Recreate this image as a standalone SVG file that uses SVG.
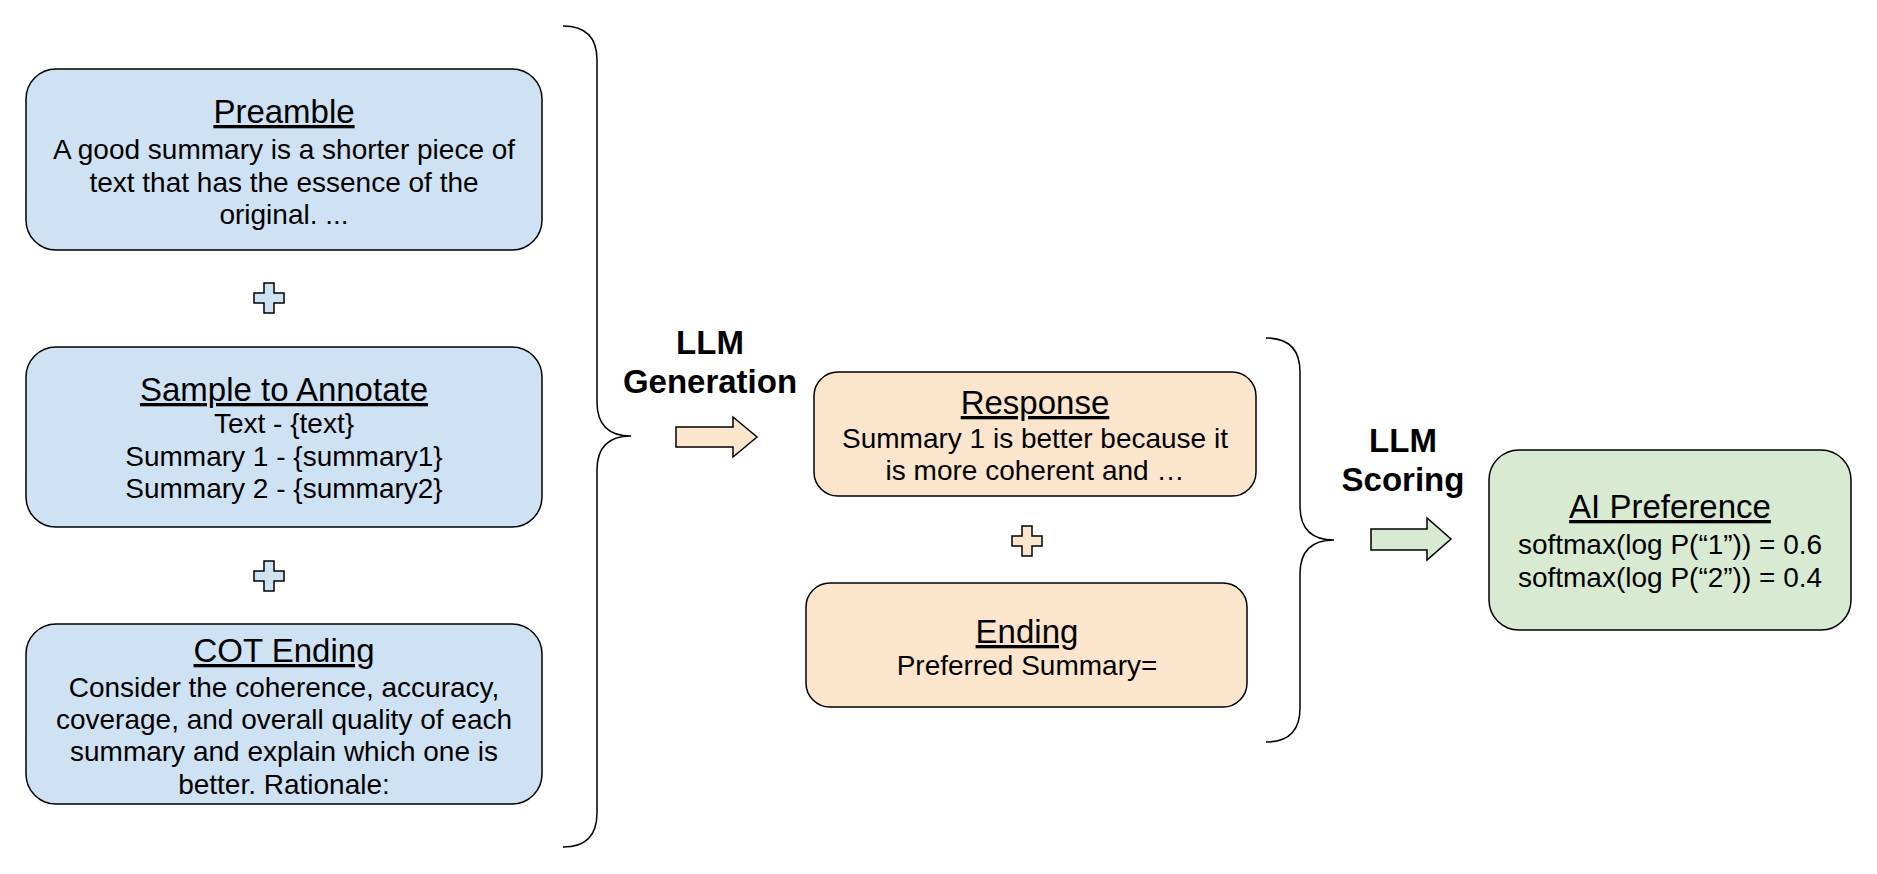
<svg xmlns="http://www.w3.org/2000/svg" width="1877" height="874" viewBox="0 0 1877 874">
<style>
text{font-family:"Liberation Sans",Arial,sans-serif;fill:#000;text-anchor:middle}
.t{font-size:33px;text-decoration:underline}
.b{font-size:28px}
.h{font-size:33px;font-weight:bold}
.box{stroke:#000;stroke-width:1.5}
.blue{fill:#cfe2f3}.or{fill:#fce5cd}.gr{fill:#d9ead3}
.br{fill:none;stroke:#000;stroke-width:1.5}
</style>
<defs>
<path id="plus" d="M-5,-15H5V-5H15V5H5V15H-5V5H-15V-5H-5Z" stroke="#000" stroke-width="1.5"/>
</defs>
<rect width="1877" height="874" fill="#fff"/>
<g id="preamble"><rect class="box blue" x="26" y="69" width="516" height="181" rx="30"/>
<text class="t" x="284" y="123">Preamble</text>
<text class="b" x="284" y="159">A good summary is a shorter piece of</text>
<text class="b" x="284" y="192">text that has the essence of the</text>
<text class="b" x="284" y="224">original. ...</text></g>
<g id="sample"><rect class="box blue" x="26" y="347" width="516" height="180" rx="30"/>
<text class="t" x="284" y="401">Sample to Annotate</text>
<text class="b" x="284" y="433">Text - {text}</text>
<text class="b" x="284" y="466">Summary 1 - {summary1}</text>
<text class="b" x="284" y="498">Summary 2 - {summary2}</text></g>
<g id="cot"><rect class="box blue" x="26" y="624" width="516" height="180" rx="30"/>
<text class="t" x="284" y="662">COT Ending</text>
<text class="b" x="284" y="697">Consider the coherence, accuracy,</text>
<text class="b" x="284" y="729">coverage, and overall quality of each</text>
<text class="b" x="284" y="761">summary and explain which one is</text>
<text class="b" x="284" y="794">better. Rationale:</text></g>
<g id="plus1"><use href="#plus" x="269" y="298" fill="#cfe2f3"/></g>
<g id="plus2"><use href="#plus" x="269" y="576" fill="#cfe2f3"/></g>
<g id="response"><rect class="box or" x="814" y="372" width="442" height="124" rx="24"/>
<text class="t" x="1035" y="414">Response</text>
<text class="b" x="1035" y="448">Summary 1 is better because it</text>
<text class="b" x="1035" y="480">is more coherent and …</text></g>
<g id="plus3"><use href="#plus" x="1027" y="541" fill="#fce5cd"/></g>
<g id="ending"><rect class="box or" x="806" y="583" width="441" height="124" rx="24"/>
<text class="t" x="1027" y="643">Ending</text>
<text class="b" x="1027" y="675">Preferred Summary=</text></g>
<g id="ai"><rect class="box gr" x="1489" y="450" width="362" height="180" rx="30"/>
<text class="t" x="1670" y="518">AI Preference</text>
<text class="b" x="1670" y="554">softmax(log P(“1”)) = 0.6</text>
<text class="b" x="1670" y="587">softmax(log P(“2”)) = 0.4</text></g>
<g id="label1"><text class="h" x="710" y="354">LLM</text><text class="h" x="710" y="393">Generation</text></g>
<g id="label2"><text class="h" x="1403" y="452">LLM</text><text class="h" x="1403" y="491">Scoring</text></g>
<g id="connectors">
<path class="br" d="M563,26 Q597,26 597,60 V402 Q597,436 631,436 Q597,436 597,470 V813 Q597,847 563,847"/>
<path class="br" d="M1266,338 Q1300,338 1300,372 V506 Q1300,540 1334,540 Q1300,540 1300,574 V708 Q1300,742 1266,742"/>
<path d="M676,427H733V417L757,437L733,457V447H676Z" fill="#fce5cd" stroke="#000" stroke-width="1.5"/>
<path d="M1371,529H1427V518L1451,539L1427,560V550H1371Z" fill="#d9ead3" stroke="#000" stroke-width="1.5"/>
</g>
</svg>
